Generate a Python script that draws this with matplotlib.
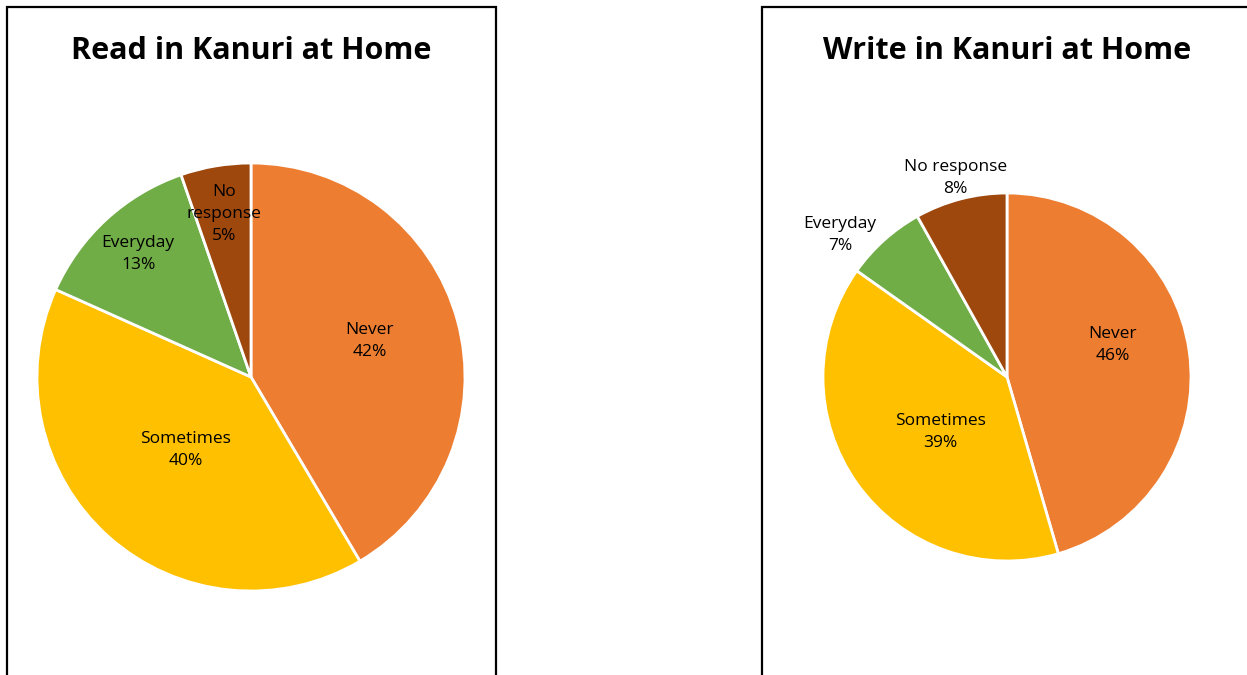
import numpy as np
import matplotlib
matplotlib.use("Agg")
import matplotlib.pyplot as plt
from matplotlib.patches import Rectangle

plt.rcParams['font.family'] = ['Open Sans', 'DejaVu Sans']

categories = ['Never', 'Sometimes', 'Everyday', 'No response']
read_values = [41.5, 40.2, 13.0, 5.3]
write_values = [45.5, 39.3, 7.1, 8.1]
colors = ['#ED7D31', '#FFC000', '#70AD47', '#9E480E']

W, H = 1247, 675
fig = plt.figure(figsize=(W / 100, H / 100), dpi=100)

# panel borders (pixel coords -> figure coords)
def px_box(x0, y0, x1, y1):
    return Rectangle((x0 / W, 1 - y1 / H), (x1 - x0) / W, (y1 - y0) / H,
                     transform=fig.transFigure, fill=False, edgecolor='black',
                     linewidth=1.6, clip_on=False)

fig.patches.append(px_box(7, 7, 496, 690))
fig.patches.append(px_box(762, 7, 1260, 690))


def draw_pie(cx, cy, r, values, title, label_r, label_shift, label_text):
    ax = fig.add_axes([(cx - r) / W, (H - cy - r) / H, 2 * r / W, 2 * r / H])
    wedges, _ = ax.pie(values, colors=colors, startangle=90, counterclock=False,
                       wedgeprops=dict(edgecolor='white', linewidth=2.0))
    ax.set_xlim(-1, 1)
    ax.set_ylim(-1, 1)
    ax.set_aspect('equal')
    ax.axis('off')
    for w, lr, sh, txt in zip(wedges, label_r, label_shift, label_text):
        ang = np.deg2rad((w.theta1 + w.theta2) / 2 + sh)
        ax.text(lr * np.cos(ang), lr * np.sin(ang), txt, ha='center', va='center',
                fontsize=12.5, linespacing=1.5, color='black')
    fig.text(cx / W, 1 - 51 / H, title, ha='center', va='center',
             fontsize=22, fontweight='bold')


read_labels = [f'{c}\n{v:.0f}%' for c, v in zip(categories, read_values)]
read_labels[3] = f'No\nresponse\n{read_values[3]:.0f}%'
draw_pie(251, 377, 214, read_values, 'Read in Kanuri at Home',
         [0.58, 0.46, 0.78, 0.77], [1.5, 0, 0, 0], read_labels)

write_labels = [f'{c}\n{v:.0f}%' for c, v in zip(categories, write_values)]
draw_pie(1007, 377, 184, write_values, 'Write in Kanuri at Home',
         [0.60, 0.47, 1.19, 1.12], [9, 4, 7.8, 0], write_labels)

fig.savefig('out.png', dpi=100)
